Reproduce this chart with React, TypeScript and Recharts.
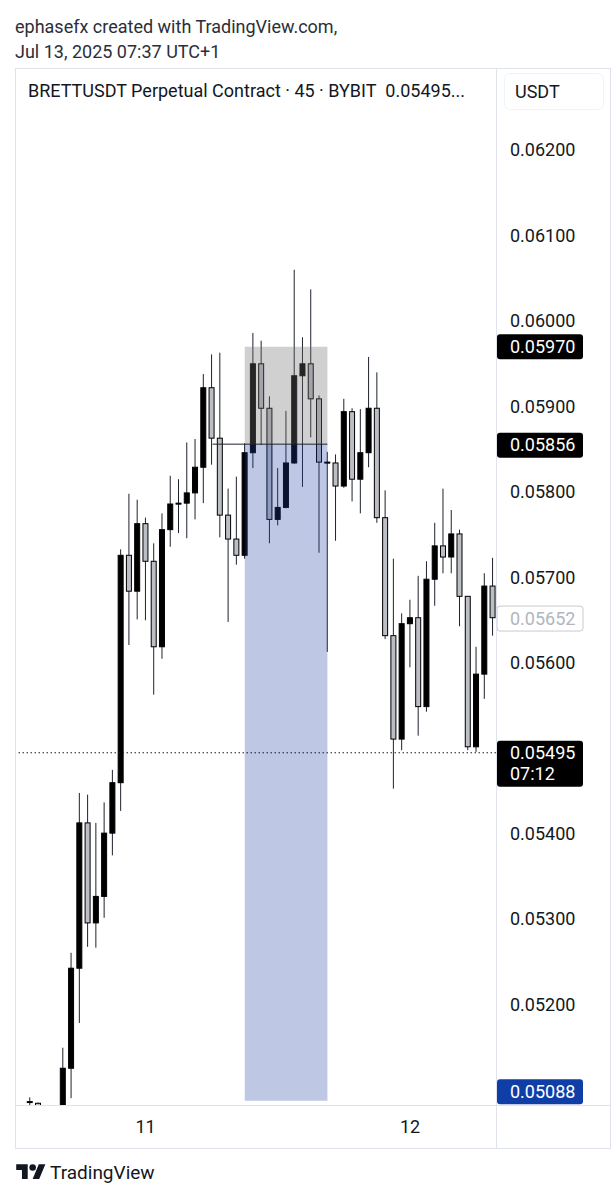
import React from "react";
import { Bar, ComposedChart, ReferenceArea, ReferenceLine, XAxis, YAxis } from "recharts";

// 45m candles, BRETTUSDT (BYBIT)
const opens = [
  0.05087, 0.05085, 0.05065, 0.0505, 0.0507, 0.05126, 0.05243, 0.05413, 0.05296, 0.05327,
  0.05401, 0.0546, 0.05726, 0.05684, 0.05763, 0.05719, 0.05619, 0.05756, 0.05786, 0.05787,
  0.05799, 0.05829, 0.05922, 0.05863, 0.05773, 0.05745, 0.05726, 0.05846, 0.0595, 0.05898,
  0.05768, 0.05782, 0.05834, 0.05936, 0.0595, 0.05909, 0.05835, 0.05834, 0.05807, 0.05894,
  0.05815, 0.05846, 0.05898, 0.0577, 0.05632, 0.05511, 0.05646, 0.05653, 0.05549, 0.05698,
  0.05737, 0.05724, 0.05751, 0.05678, 0.05502, 0.05587, 0.0569,
];
const highs = [
  0.05092, 0.05086, 0.05075, 0.05078, 0.0515, 0.05261, 0.05448, 0.05446, 0.05413, 0.05437,
  0.05475, 0.05733, 0.05798, 0.05791, 0.0577, 0.0574, 0.05775, 0.05819, 0.05815, 0.05858,
  0.05862, 0.05938, 0.05961, 0.05963, 0.05804, 0.05818, 0.05857, 0.05986, 0.05977, 0.05912,
  0.05828, 0.05895, 0.0606, 0.05981, 0.06037, 0.05913, 0.05847, 0.05844, 0.05909, 0.05898,
  0.05897, 0.05958, 0.0594, 0.05802, 0.05722, 0.05658, 0.05674, 0.05702, 0.05719, 0.05764,
  0.05804, 0.05779, 0.05756, 0.05678, 0.05619, 0.05705, 0.05723,
];
const lows = [
  0.0508, 0.0506, 0.0504, 0.0503, 0.0506, 0.05091, 0.05179, 0.05268, 0.05267, 0.05302,
  0.05375, 0.05427, 0.05621, 0.05651, 0.0565, 0.05563, 0.05605, 0.05736, 0.05752, 0.05746,
  0.05768, 0.05787, 0.05832, 0.05747, 0.05648, 0.05715, 0.05722, 0.05828, 0.05855, 0.0574,
  0.05761, 0.05781, 0.05833, 0.05806, 0.05864, 0.05729, 0.05613, 0.05743, 0.05805, 0.05789,
  0.05775, 0.05829, 0.05764, 0.05628, 0.05453, 0.05498, 0.05595, 0.05515, 0.05543, 0.05667,
  0.05705, 0.05705, 0.05643, 0.05498, 0.05496, 0.05558, 0.05632,
];
const closes = [
  0.05086, 0.05065, 0.0505, 0.0507, 0.05126, 0.05243, 0.05413, 0.05296, 0.05327, 0.05401,
  0.0546, 0.05726, 0.05684, 0.05763, 0.05719, 0.05619, 0.05756, 0.05786, 0.05787, 0.05799,
  0.05829, 0.05922, 0.05863, 0.05773, 0.05745, 0.05726, 0.05846, 0.0595, 0.05898, 0.05768,
  0.05782, 0.05834, 0.05936, 0.0595, 0.05909, 0.05835, 0.05835, 0.05807, 0.05894, 0.05815,
  0.05846, 0.05898, 0.0577, 0.05632, 0.05511, 0.05646, 0.05653, 0.05549, 0.05698, 0.05737,
  0.05724, 0.05751, 0.05678, 0.05502, 0.05587, 0.0569, 0.05653,
];

const dayTicks = [14, 46];
const dayLabels = ["11", "12"];
const priceTicks = [0.052, 0.053, 0.054, 0.056, 0.057, 0.058, 0.059, 0.06, 0.061, 0.062];

// long position tool
const entryPrice = 0.05856;
const targetPrice = 0.0597;
const stopPrice = 0.05088;
const positionStart = 26;
const positionEnd = 36;
const entryLineStart = 22.1;

const lastPrice = 0.05495;
const countdown = "07:12";
const closePrice = 0.05652;

const data = opens.map((o, i) => ({
  i,
  o,
  h: highs[i],
  l: lows[i],
  c: closes[i],
  range: [lows[i], highs[i]],
}));

const FONT = "Roboto, 'Noto Sans', sans-serif";
const TEXT = "#131722";
const BORDER = "#e0e3eb";

function Candle(props: any) {
  const { x, y, width, height, payload } = props;
  const top = Math.min(y, y + height);
  const bot = Math.max(y, y + height);
  const span = payload.h - payload.l || 1e-9;
  const k = (bot - top) / span;
  const py = (p: number) => top + (payload.h - p) * k;
  const cx = x + width / 2;
  const up = payload.c >= payload.o;
  const bTop = py(Math.max(payload.o, payload.c));
  const bBot = py(Math.min(payload.o, payload.c));
  return (
    <g>
      <line x1={cx} x2={cx} y1={top} y2={bot} stroke="#1e222d" strokeWidth={1} />
      <rect
        x={x + 0.5}
        y={bTop}
        width={width - 1}
        height={Math.max(bBot - bTop, 1)}
        fill={up ? "#000000" : "#bcbec5"}
        stroke="#000000"
        strokeWidth={1}
      />
    </g>
  );
}

function PriceTick(props: any) {
  const { x, y, payload } = props;
  return (
    <text x={x} y={y} dy={6} fill={TEXT} fontSize={18} fontFamily={FONT} textAnchor="start">
      {payload.value.toFixed(5)}
    </text>
  );
}

function badge(kind: "dark" | "light" | "blue" | "timer", text: string, shift = 0) {
  return (props: any) => {
    const vb = props.viewBox || {};
    const bx = (vb.x || 0) + (vb.width || 0) + 1;
    const y = (vb.y || 0) + shift;
    if (kind === "timer") {
      return (
        <g>
          <rect x={bx} y={y - 12} width={86} height={46} rx={3} fill="#000" />
          <text x={bx + 13} y={y + 6} fill="#fff" fontSize={18} fontFamily={FONT}>{text}</text>
          <text x={bx + 13} y={y + 27} fill="#fff" fontSize={18} fontFamily={FONT}>{countdown}</text>
        </g>
      );
    }
    const fill = kind === "dark" ? "#000" : kind === "blue" ? "#0f3ea6" : "#fff";
    const color = kind === "light" ? "#b2b5be" : "#fff";
    return (
      <g>
        <rect
          x={bx}
          y={y - 12.5}
          width={86}
          height={25}
          rx={3}
          fill={fill}
          stroke={kind === "light" ? "#c8cad0" : "none"}
        />
        <text x={bx + 13} y={y + 6} fill={color} fontSize={18} fontFamily={FONT}>{text}</text>
      </g>
    );
  };
}

export default function App() {
  return (
    <div style={{ position: "absolute", left: 0, top: 0, width: 614, height: 1200, background: "#fff", fontFamily: FONT, color: TEXT, overflow: "hidden" }}>
      <div style={{ position: "absolute", left: 15, top: 14, fontSize: 18, lineHeight: "25px", color: "#2a2e39" }}>
        ephasefx created with TradingView.com,
        <br />
        Jul 13, 2025 07:37 UTC+1
      </div>

      <ComposedChart
        width={614}
        height={1200}
        data={data}
        margin={{ top: 68, right: 4, bottom: 52, left: 15 }}
        style={{ position: "absolute", left: 0, top: 0 }}
      >
        <XAxis
          dataKey="i"
          type="number"
          domain={[-1.8, 56.4]}
          allowDataOverflow
          ticks={dayTicks}
          tickFormatter={(v: number) => dayLabels[dayTicks.indexOf(v)] ?? ""}
          interval={0}
          height={43}
          axisLine={false}
          tickLine={false}
          tickSize={0}
          tickMargin={15}
          tick={{ fill: TEXT, fontSize: 18, fontFamily: FONT }}
        />
        <YAxis
          orientation="right"
          type="number"
          domain={[0.05083, 0.06296]}
          allowDataOverflow
          ticks={priceTicks}
          interval={0}
          width={114}
          axisLine={false}
          tickLine={false}
          tickSize={0}
          tickMargin={14}
          tick={<PriceTick />}
        />
        <Bar dataKey="range" barSize={6} shape={<Candle />} isAnimationActive={false} />
        <ReferenceArea
          x1={positionStart}
          x2={positionEnd}
          y1={entryPrice}
          y2={targetPrice}
          fill="#707070"
          fillOpacity={0.33}
          stroke="none"
          zIndex={350}
        />
        <ReferenceArea
          x1={positionStart}
          x2={positionEnd}
          y1={stopPrice}
          y2={entryPrice}
          fill="#2041a5"
          fillOpacity={0.29}
          stroke="none"
          zIndex={350}
        />
        <ReferenceLine
          segment={[{ x: entryLineStart, y: entryPrice }, { x: positionEnd, y: entryPrice }]}
          stroke="#1e222d"
          strokeWidth={1}
          zIndex={360}
        />
        <ReferenceLine
          segment={[{ x: positionStart, y: entryPrice }, { x: positionStart + 0.7, y: targetPrice - 0.00008 }, { x: positionStart + 1.9, y: targetPrice - 0.0002 }]}
          stroke="#1e222d"
          strokeDasharray="4 3"
          strokeWidth={1}
          zIndex={360}
        />
        <ReferenceLine y={lastPrice} stroke="#131722" strokeDasharray="1.5 2.5" strokeWidth={1} label={badge("timer", lastPrice.toFixed(5))} />
        <ReferenceLine y={targetPrice} stroke="none" label={badge("dark", targetPrice.toFixed(5))} />
        <ReferenceLine y={entryPrice} stroke="none" label={badge("dark", entryPrice.toFixed(5), 1)} />
        <ReferenceLine y={closePrice} stroke="none" label={badge("light", closePrice.toFixed(5))} />
        <ReferenceLine y={stopPrice} stroke="none" label={badge("blue", stopPrice.toFixed(5), -9)} />
      </ComposedChart>

      {/* pane frame */}
      <div style={{ position: "absolute", left: 15, top: 68, width: 594, height: 1079, border: `1px solid ${BORDER}`, pointerEvents: "none" }} />
      <div style={{ position: "absolute", left: 496, top: 68, width: 1, height: 1080, background: BORDER }} />
      <div style={{ position: "absolute", left: 15, top: 1105, width: 595, height: 1, background: BORDER }} />

      <div style={{ position: "absolute", left: 28, top: 80, fontSize: 18, whiteSpace: "nowrap" }}>
        BRETTUSDT Perpetual Contract · 45 · BYBIT&nbsp;&nbsp;0.05495...
      </div>
      <div style={{ position: "absolute", left: 504, top: 73, width: 100, height: 37, borderRadius: 6, border: "1px solid #f0f3fa", background: "#fff", boxSizing: "border-box", fontSize: 18, lineHeight: "35px", paddingLeft: 10 }}>
        USDT
      </div>

      <svg style={{ position: "absolute", left: 15, top: 1161 }} width={32} height={23} viewBox="0 0 36 28">
        <path d="M14 22H7V11H0V4h14v18zM28 22h-8l7.5-18h8L28 22z" fill={TEXT} />
        <circle cx="20" cy="8" r="4" fill={TEXT} />
      </svg>
      <div style={{ position: "absolute", left: 50, top: 1160, fontSize: 19, lineHeight: "25px", color: TEXT }}>TradingView</div>
    </div>
  );
}
